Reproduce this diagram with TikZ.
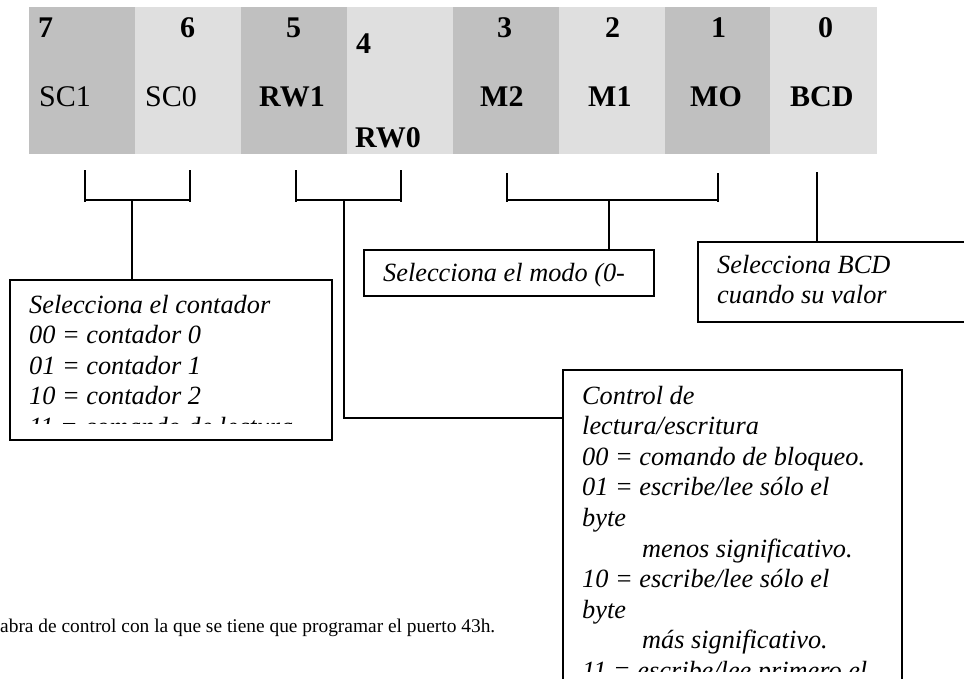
\documentclass[tikz,border=0pt]{standalone}
\usepackage{fontspec}
\setmainfont{Liberation Serif}
\definecolor{cdark}{RGB}{192,192,192}
\definecolor{clight}{RGB}{223,223,223}
\tikzset{
  cell/.style={draw=none, inner sep=0pt, minimum width=106pt, minimum height=147pt, anchor=north west},
  dcell/.style={cell, fill=cdark},
  lcell/.style={cell, fill=clight},
  bitnum/.style={inner sep=0pt, anchor=base west, font=\fontsize{30}{34}\selectfont\bfseries},
  bitlab/.style={inner sep=0pt, anchor=base west, font=\fontsize{30}{34}\selectfont},
  bitlabb/.style={bitlab, font=\fontsize{30}{34}\selectfont\bfseries},
  brk/.style={line width=2pt},
  infobox/.style={draw, line width=1.6pt, inner sep=0pt, anchor=north west, fill=white},
  infotext/.style={inner sep=0pt, anchor=base west, font=\fontsize{26.3}{30.6}\selectfont\itshape},
}
\begin{document}
\begin{tikzpicture}[x=1pt,y=-1pt]
\useasboundingbox (0,0) rectangle (964,678);
\clip (0,0) rectangle (964,678);
\fill[white] (0,0) rectangle (964,678);
% cells
\node[dcell] (c7) at (29,7) {};
\node[lcell] (c6) at (135,7) {};
\node[dcell] (c5) at (241,7) {};
\node[lcell] (c4) at (347,7) {};
\node[dcell] (c3) at (453,7) {};
\node[lcell] (c2) at (559,7) {};
\node[dcell] (c1) at (665,7) {};
\node[lcell, minimum width=107pt] (c0) at (770,7) {};
% bit numbers
\node[bitnum] (n7) at (38,37) {7};
\node[bitnum] (n6) at (180,37) {6};
\node[bitnum] (n5) at (286,37) {5};
\node[bitnum] (n4) at (356,53) {4};
\node[bitnum] (n3) at (497,37) {3};
\node[bitnum] (n2) at (605,37) {2};
\node[bitnum] (n1) at (711,37) {1};
\node[bitnum] (n0) at (818,37) {0};
% bit labels
\node[bitlab] (l7) at (39,106) {SC1};
\node[bitlab] (l6) at (145,106) {SC0};
\node[bitlabb] (l5) at (259,106) {RW1};
\node[bitlabb] (l4) at (355,147) {RW0};
\node[bitlabb] (l3) at (480,106) {M2};
\node[bitlabb] (l2) at (588,106) {M1};
\node[bitlabb] (l1) at (690,106) {MO};
\node[bitlabb] (l0) at (790,106) {BCD};
% info boxes
\node[infobox, minimum width=322pt, minimum height=160pt] (cnt) at (9,279) {};
\node[infobox, minimum width=290pt, minimum height=46pt] (mode) at (363,249) {};
\node[infobox, minimum width=300pt, minimum height=80pt] (bcd) at (697,241) {};
\node[infobox, minimum width=339pt, minimum height=330pt] (ctl) at (562,369) {};
% box texts
\begin{scope}
\clip (9,279) rectangle (331,423);
\node[infotext] (cnttxt) at (29,313) {\parbox[t]{300pt}{\raggedright
Selecciona el contador\\
00 = contador 0\\
01 = contador 1\\
10 = contador 2\\
11 = comando de lectura}};
\end{scope}
\node[infotext] (modetxt) at (383,281) {Selecciona el modo (0-};
\node[infotext] (bcdtxt) at (717,273) {\parbox[t]{240pt}{\raggedright
Selecciona BCD\\
cuando su valor}};
\begin{scope}
\clip (562,369) rectangle (901,671);
\node[infotext] (ctltxt) at (582,404) {\parbox[t]{310pt}{\raggedright
Control de\\
lectura/escritura\\
00 = comando de bloqueo.\\
01 = escribe/lee sólo el\\
byte\\
\hspace*{60pt}menos significativo.\\
10 = escribe/lee sólo el\\
byte\\
\hspace*{60pt}más significativo.\\
11 = escribe/lee primero el}};
\end{scope}
% brackets
\coordinate (b1a) at (85,170); \coordinate (b1b) at (190,170);
\coordinate (b1m) at (132,200);
\draw[brk] (b1a) -- ++(0,32) (b1b) -- ++(0,32);
\draw[brk] (b1a |- b1m) -- (b1b |- b1m);
\draw[brk] (b1m) -- (cnt.north -| b1m);
\coordinate (b2a) at (296,170); \coordinate (b2b) at (401,170);
\coordinate (b2m) at (344,200);
\coordinate (k2) at (344,418);
\draw[brk] (b2a) -- ++(0,32) (b2b) -- ++(0,32);
\draw[brk] (b2a |- b2m) -- (b2b |- b2m);
\draw[brk] (b2m) -- (k2) -- (k2 -| ctl.west);
\coordinate (b3a) at (507,173); \coordinate (b3b) at (718,173);
\coordinate (b3m) at (609,200);
\draw[brk] (b3a) -- ++(0,29) (b3b) -- ++(0,29);
\draw[brk] (b3a |- b3m) -- (b3b |- b3m);
\draw[brk] (b3m) -- (mode.north -| b3m);
\coordinate (b4a) at (817,172);
\draw[brk] (b4a) -- (bcd.north -| b4a);
% caption
\node[inner sep=0pt, anchor=base west, font=\fontsize{19.4}{22}\selectfont] (cap) at (0,632) {abra de control con la que se tiene que programar el puerto 43h.};
\end{tikzpicture}
\end{document}
